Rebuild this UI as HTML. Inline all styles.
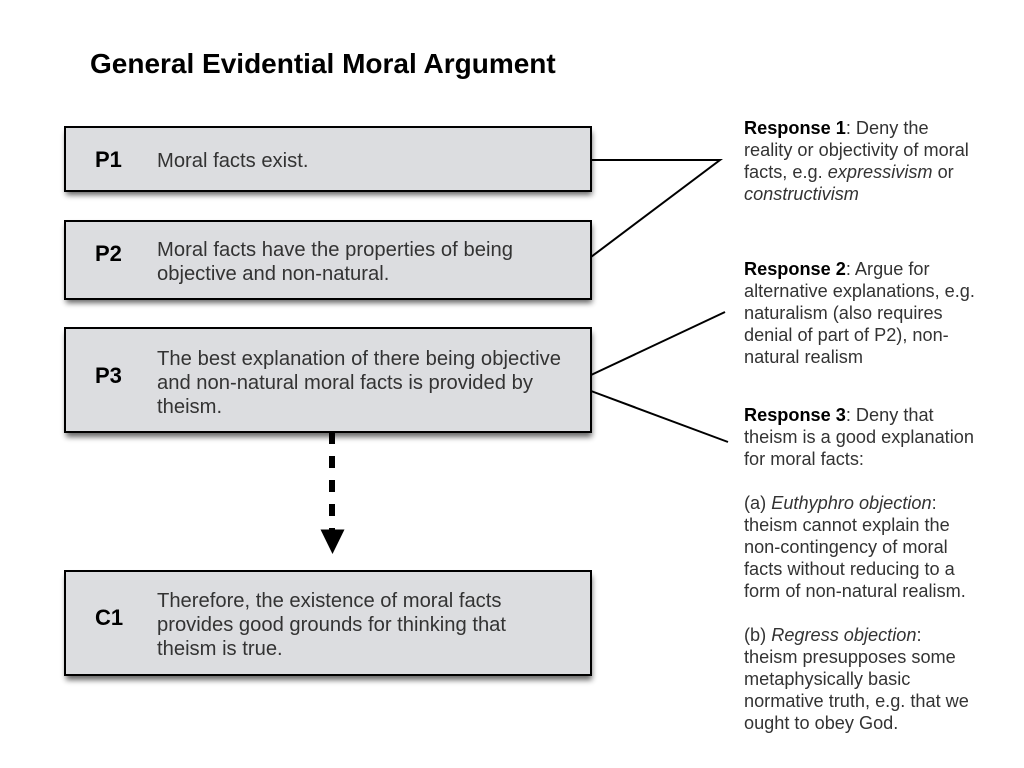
<!DOCTYPE html>
<html><head><meta charset="utf-8"><style>
html,body{margin:0;padding:0;background:#fff}
svg{display:block;font-family:"Liberation Sans",sans-serif}
.b{font-size:20.2px;fill:#333}
.l{font-size:22px;font-weight:bold;fill:#000}
.r{font-size:18.15px;fill:#333}
.r tspan.s{font-weight:bold;fill:#000}
.r tspan.i{font-style:italic}
</style></head><body>
<svg width="1024" height="768" viewBox="0 0 1024 768">
<defs><filter id="sh" x="-5%" y="-20%" width="110%" height="150%"><feGaussianBlur stdDeviation="3"/></filter></defs>
<g fill="#000" opacity=".6" filter="url(#sh)">
<rect x="66" y="132" width="526" height="63"/>
<rect x="66" y="225" width="526" height="78"/>
<rect x="66" y="333" width="526" height="104"/>
<rect x="66" y="576" width="526" height="104"/>
</g>
<g fill="#dcdde0" stroke="#000" stroke-width="2">
<rect x="65" y="127" width="526" height="64"/>
<rect x="65" y="221" width="526" height="78"/>
<rect x="65" y="328" width="526" height="104"/>
<rect x="65" y="571" width="526" height="104"/>
</g>
<g stroke="#000" stroke-width="2" fill="none">
<path d="M591 160H720L591 257"/>
<path d="M591 375L725 312"/>
<path d="M591 391L728 442"/>
</g>
<path d="M332 432V516" stroke="#000" stroke-width="6" stroke-dasharray="12 12" fill="none"/>
<rect x="329" y="528" width="6" height="2" fill="#000"/>
<polygon points="320.500,529.500 344.500,529.500 332.500,554" fill="#000"/>

<text x="90" y="73" font-size="28" font-weight="bold" fill="#000">General Evidential Moral Argument</text>

<text class="l" x="95" y="167">P1</text>
<text class="l" x="95" y="261">P2</text>
<text class="l" x="95" y="383">P3</text>
<text class="l" x="95" y="625">C1</text>

<text class="b" x="157" y="167">Moral facts exist.</text>
<text class="b" x="157" y="256" textLength="356">Moral facts have the properties of being</text>
<text class="b" x="157" y="280">objective and non-natural.</text>
<text class="b" x="157" y="365" textLength="404">The best explanation of there being objective</text>
<text class="b" x="157" y="389">and non-natural moral facts is provided by</text>
<text class="b" x="157" y="413">theism.</text>
<text class="b" x="157" y="607">Therefore, the existence of moral facts</text>
<text class="b" x="157" y="631">provides good grounds for thinking that</text>
<text class="b" x="157" y="655">theism is true.</text>

<g class="r">
<text class="r" x="744" y="134"><tspan class="s">Response 1</tspan>: Deny the</text>
<text class="r" x="744" y="156">reality or objectivity of moral</text>
<text class="r" x="744" y="178">facts, e.g. <tspan class="i">expressivism</tspan> or</text>
<text class="r" x="744" y="200"><tspan class="i">constructivism</tspan></text>

<text class="r" x="744" y="275"><tspan class="s">Response 2</tspan>: Argue for</text>
<text class="r" x="744" y="297">alternative explanations, e.g.</text>
<text class="r" x="744" y="319">naturalism (also requires</text>
<text class="r" x="744" y="341">denial of part of P2), non-</text>
<text class="r" x="744" y="363">natural realism</text>

<text class="r" x="744" y="421"><tspan class="s">Response 3</tspan>: Deny that</text>
<text class="r" x="744" y="443">theism is a good explanation</text>
<text class="r" x="744" y="465">for moral facts:</text>

<text class="r" x="744" y="509">(a) <tspan class="i">Euthyphro objection</tspan>:</text>
<text class="r" x="744" y="531">theism cannot explain the</text>
<text class="r" x="744" y="553">non-contingency of moral</text>
<text class="r" x="744" y="575">facts without reducing to a</text>
<text class="r" x="744" y="597">form of non-natural realism.</text>

<text class="r" x="744" y="641">(b) <tspan class="i">Regress objection</tspan>:</text>
<text class="r" x="744" y="663">theism presupposes some</text>
<text class="r" x="744" y="685">metaphysically basic</text>
<text class="r" x="744" y="707">normative truth, e.g. that we</text>
<text class="r" x="744" y="729">ought to obey God.</text>
</g>
</svg>
</body></html>
